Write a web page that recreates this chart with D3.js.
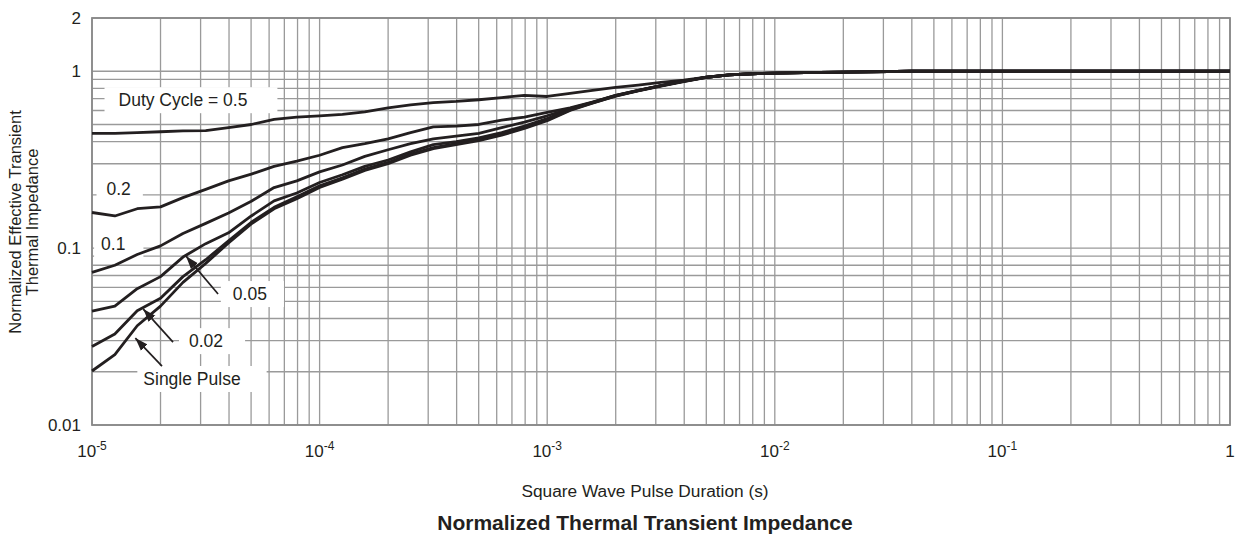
<!DOCTYPE html>
<html>
<head>
<meta charset="utf-8">
<script src="https://cdn.jsdelivr.net/npm/d3@7"></script>
<style>
  html, body { margin: 0; padding: 0; background: #fff; }
  svg { display: block; font-family: "Liberation Sans", Arial, sans-serif; }
</style>
</head>
<body>
<svg id="chart" width="1242" height="534"></svg>
<script>
// ---- data ----
const durations = [1e-5, 1.26e-5, 1.58e-5, 2e-5, 2.51e-5, 3.16e-5, 3.98e-5, 5.01e-5, 6.31e-5, 7.94e-5,
  1e-4, 1.26e-4, 1.58e-4, 2e-4, 2.51e-4, 3.16e-4, 3.98e-4, 5.01e-4, 6.31e-4, 7.94e-4,
  1e-3, 1.26e-3, 1.58e-3, 2e-3, 2.51e-3, 3.16e-3, 3.98e-3, 5.01e-3, 6.31e-3, 7.94e-3,
  1e-2, 1.58e-2, 2.51e-2, 3.98e-2, 1e-1, 1];

const duty05 = [0.445, 0.445, 0.45, 0.455, 0.46, 0.462, 0.48, 0.50, 0.535, 0.55,
  0.56, 0.57, 0.59, 0.62, 0.645, 0.665, 0.675, 0.69, 0.71, 0.73,
  0.72, 0.75, 0.78, 0.81, 0.835, 0.865, 0.89, 0.925, 0.955, 0.968,
  0.975, 0.985, 0.993, 1.0, 1.0, 1.0];
const duty02 = [0.159, 0.152, 0.167, 0.171, 0.193, 0.215, 0.24, 0.262, 0.29, 0.31,
  0.335, 0.37, 0.39, 0.415, 0.45, 0.485, 0.49, 0.50, 0.53, 0.55,
  0.585, 0.62, 0.67, 0.73, 0.78, 0.83, 0.88, 0.925, 0.955, 0.968,
  0.975, 0.985, 0.993, 1.0, 1.0, 1.0];
const duty01 = [0.073, 0.080, 0.092, 0.103, 0.121, 0.138, 0.158, 0.184, 0.22, 0.24,
  0.27, 0.295, 0.33, 0.36, 0.39, 0.415, 0.43, 0.445, 0.48, 0.515,
  0.56, 0.615, 0.668, 0.73, 0.78, 0.83, 0.88, 0.925, 0.955, 0.968,
  0.975, 0.985, 0.993, 1.0, 1.0, 1.0];
const duty005 = [0.044, 0.047, 0.059, 0.069, 0.089, 0.106, 0.122, 0.152, 0.185, 0.205,
  0.235, 0.26, 0.29, 0.315, 0.35, 0.385, 0.40, 0.42, 0.45, 0.49,
  0.54, 0.61, 0.665, 0.728, 0.778, 0.828, 0.878, 0.925, 0.955, 0.968,
  0.975, 0.985, 0.993, 1.0, 1.0, 1.0];
const duty002 = [0.0278, 0.0327, 0.0443, 0.052, 0.069, 0.086, 0.11, 0.14, 0.17, 0.195,
  0.225, 0.25, 0.28, 0.305, 0.34, 0.37, 0.39, 0.41, 0.44, 0.48,
  0.53, 0.605, 0.662, 0.726, 0.776, 0.826, 0.876, 0.924, 0.955, 0.968,
  0.975, 0.985, 0.993, 1.0, 1.0, 1.0];
const singlePulse = [0.0202, 0.025, 0.0364, 0.047, 0.064, 0.082, 0.107, 0.137, 0.167, 0.19,
  0.22, 0.245, 0.275, 0.30, 0.335, 0.365, 0.385, 0.405, 0.435, 0.475,
  0.525, 0.60, 0.66, 0.724, 0.775, 0.825, 0.875, 0.923, 0.955, 0.968,
  0.975, 0.985, 0.993, 1.0, 1.0, 1.0];

const seriesList = [duty05, duty02, duty01, duty005, duty002, singlePulse];

const xTickExponents = [-5, -4, -3, -2, -1, 0];
const yTickLabels = [
  { v: 2, text: "2" },
  { v: 1, text: "1" },
  { v: 0.1, text: "0.1" },
  { v: 0.01, text: "0.01" }
];

const xTitle = "Square Wave Pulse Duration (s)";
const chartTitle = "Normalized Thermal Transient Impedance";
const yTitleLines = ["Normalized Effective Transient", "Thermal Impedance"];

// annotation labels: text, centre in data coords
const labels = [
  { text: "Duty Cycle = 0.5", t: 2.51e-5, v: 0.686 },
  { text: "0.2", t: 1.31e-5, v: 0.2155 },
  { text: "0.1", t: 1.24e-5, v: 0.1054 },
  { text: "0.05", t: 4.94e-5, v: 0.055 },
  { text: "0.02", t: 3.17e-5, v: 0.0298 },
  { text: "Single Pulse", t: 2.75e-5, v: 0.0182 }
];
// arrows: from (t0,v0) to tip (t1,v1)
const arrows = [
  { t0: 3.58e-5, v0: 0.055, t1: 2.59e-5, v1: 0.0901 },
  { t0: 2.27e-5, v0: 0.0294, t1: 1.68e-5, v1: 0.0452 },
  { t0: 2.03e-5, v0: 0.0215, t1: 1.55e-5, v1: 0.031 }
];

// ---- layout ----
const svg = d3.select("#chart");
const pL = 92, pR = 1230, pT = 18, pB = 425;
// white box padding [left, right] for each annotation label
const labelPads = [[14, 30], [10, 12], [7, 18], [12, 17], [10, 22], [6, 26]];

const x = d3.scaleLog().domain([1e-5, 1]).range([pL, pR]);
const y = d3.scaleLog().domain([0.01, 2]).range([pB, pT]);

const gridColor = "#9a9a9a";
const ink = "#231f20";

// vertical grid lines (1..9 x 10^k)
const xGrid = [];
for (let e = -5; e < 0; e++) for (let m = 1; m <= 9; m++) xGrid.push(m * Math.pow(10, e));
xGrid.push(1);
svg.append("g").selectAll("line").data(xGrid).join("line")
  .attr("x1", d => x(d)).attr("x2", d => x(d))
  .attr("y1", pT).attr("y2", pB)
  .attr("stroke", gridColor).attr("stroke-width", 1.3);

// horizontal grid lines
const yGrid = [];
for (let e = -2; e < 0; e++) for (let m = 1; m <= 9; m++) yGrid.push(m * Math.pow(10, e));
yGrid.push(1, 2);
svg.append("g").selectAll("line").data(yGrid).join("line")
  .attr("x1", pL).attr("x2", pR)
  .attr("y1", d => y(d)).attr("y2", d => y(d))
  .attr("stroke", gridColor).attr("stroke-width", 1.3);

// frame
svg.append("rect").attr("x", pL).attr("y", pT)
  .attr("width", pR - pL).attr("height", pB - pT)
  .attr("fill", "none").attr("stroke", "#8a8a8a").attr("stroke-width", 1.8);

// label background boxes
const labelFont = 17.5;
const labG = svg.append("g");
labels.forEach((l, i) => {
  const tx = x(l.t), ty = y(l.v);
  const tmp = labG.append("text").attr("font-size", labelFont).text(l.text)
    .attr("x", tx).attr("y", ty).attr("text-anchor", "middle").attr("dominant-baseline", "central");
  const bb = tmp.node().getBBox();
  tmp.remove();
  const [pl, pr] = labelPads[i];
  labG.append("rect")
    .attr("x", bb.x - pl).attr("y", bb.y - 3)
    .attr("width", bb.width + pl + pr).attr("height", bb.height + 6)
    .attr("fill", "#fff");
});

// curves
const line = d3.line().x((d, i) => x(durations[i])).y(d => y(d));
svg.append("g").selectAll("path").data(seriesList).join("path")
  .attr("d", d => line(d))
  .attr("fill", "none").attr("stroke", ink).attr("stroke-width", 2.8)
  .attr("stroke-linejoin", "round");

// label texts
labels.forEach(l => {
  svg.append("text").attr("font-size", labelFont).attr("fill", ink)
    .attr("x", x(l.t)).attr("y", y(l.v))
    .attr("text-anchor", "middle").attr("dominant-baseline", "central")
    .text(l.text);
});

// arrows
svg.append("defs").append("marker").attr("id", "ah")
  .attr("viewBox", "0 0 10 10").attr("refX", 10).attr("refY", 5)
  .attr("markerWidth", 13).attr("markerHeight", 13).attr("orient", "auto")
  .attr("markerUnits", "userSpaceOnUse")
  .append("path").attr("d", "M0,1.5 L10,5 L0,8.5 Z").attr("fill", ink);
svg.append("g").selectAll("line").data(arrows).join("line")
  .attr("x1", d => x(d.t0)).attr("y1", d => y(d.v0))
  .attr("x2", d => x(d.t1)).attr("y2", d => y(d.v1))
  .attr("stroke", ink).attr("stroke-width", 1.7)
  .attr("marker-end", "url(#ah)");

// y tick labels
svg.append("g").selectAll("text").data(yTickLabels).join("text")
  .attr("x", pL - 11).attr("y", d => y(d.v))
  .attr("text-anchor", "end").attr("dominant-baseline", "central")
  .attr("font-size", 17).attr("fill", ink)
  .text(d => d.text);

// x tick labels with superscripts
const xt = svg.append("g").selectAll("text").data(xTickExponents).join("text")
  .attr("x", d => x(Math.pow(10, d))).attr("y", 457)
  .attr("text-anchor", "middle").attr("font-size", 17).attr("fill", ink);
xt.each(function(d) {
  const t = d3.select(this);
  if (d === 0) { t.text("1"); return; }
  t.append("tspan").text("10");
  t.append("tspan").attr("dy", -7).attr("font-size", 12).text("-" + Math.abs(d));
});

// axis titles
svg.append("text").attr("x", 645).attr("y", 497)
  .attr("text-anchor", "middle").attr("font-size", 17.3).attr("fill", ink).text(xTitle);
svg.append("text").attr("x", 645).attr("y", 530)
  .attr("text-anchor", "middle").attr("font-size", 21).attr("font-weight", "bold")
  .attr("fill", ink).text(chartTitle);
const yt = svg.append("text").attr("transform", "translate(21,222) rotate(-90)")
  .attr("text-anchor", "middle").attr("font-size", 16.5).attr("fill", ink);
yTitleLines.forEach((s, i) => {
  yt.append("tspan").attr("x", 0).attr("dy", i === 0 ? 0 : 17).text(s);
});
</script>
</body>
</html>
